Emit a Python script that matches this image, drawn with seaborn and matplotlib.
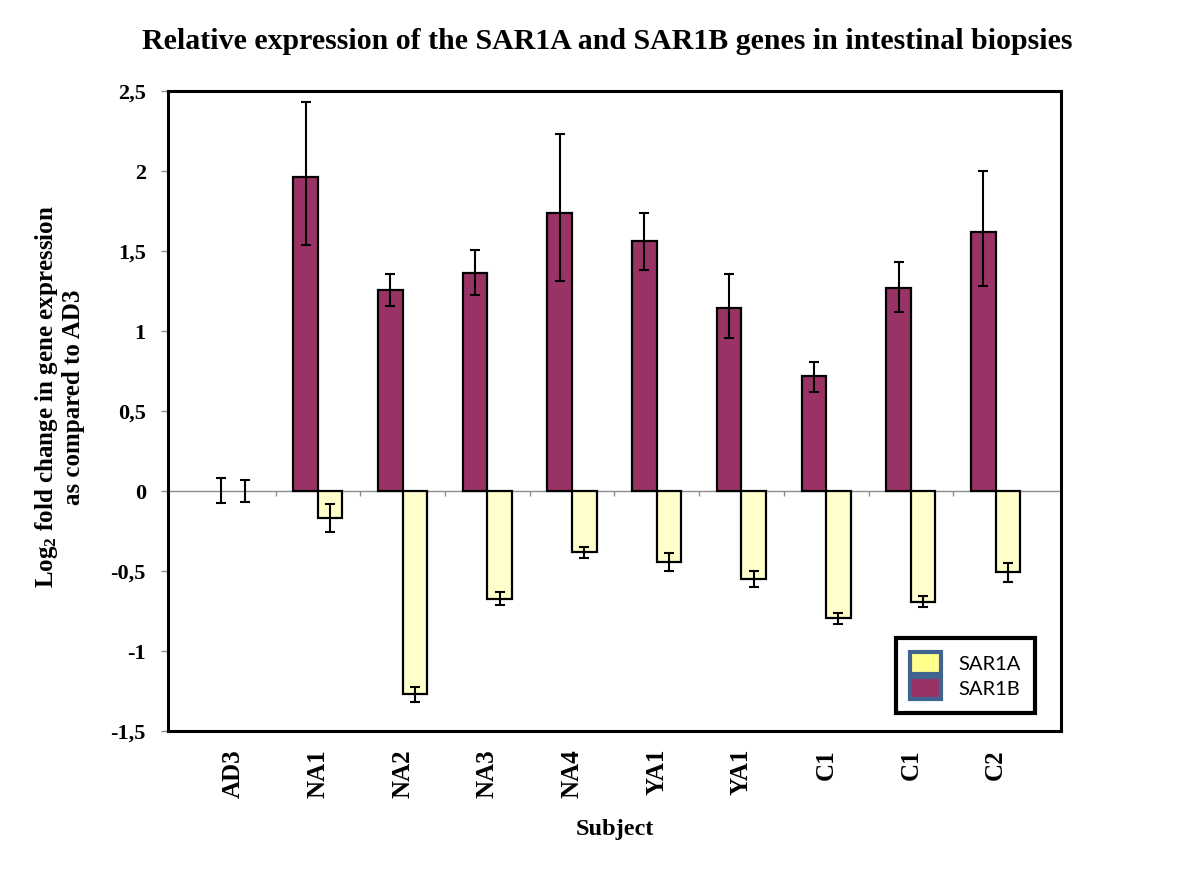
import matplotlib
matplotlib.use('Agg')
import matplotlib.pyplot as plt
from matplotlib.patches import Patch
from matplotlib.ticker import FuncFormatter
import seaborn as sns
import pandas as pd
import numpy as np

# values
subjects = ['AD3', 'NA1', 'NA2', 'NA3', 'NA4', 'YA1', 'YA1', 'C1', 'C1', 'C2']
sar1b = [0.0, 1.96, 1.254, 1.365, 1.74, 1.56, 1.144, 0.719, 1.271, 1.619]
sar1b_err_lo = [0.077, 0.42, 0.10, 0.14, 0.43, 0.18, 0.19, 0.10, 0.15, 0.34]
sar1b_err_hi = [0.083, 0.47, 0.10, 0.14, 0.49, 0.18, 0.21, 0.09, 0.16, 0.38]
sar1a = [0.0, -0.169, -1.271, -0.673, -0.383, -0.444, -0.548, -0.796, -0.692, -0.508]
sar1a_err = [0.068, 0.085, 0.045, 0.04, 0.036, 0.058, 0.05, 0.034, 0.035, 0.058]

colors = {'SAR1B': '#993366', 'SAR1A': '#FFFFCC'}
legend_colors = {'SAR1A': '#FFFF8C', 'SAR1B': '#993366'}

sns.set_style('white')
plt.rcParams['font.family'] = ['Liberation Serif', 'DejaVu Serif']
plt.rcParams['font.weight'] = 'bold'
plt.rcParams['text.color'] = 'black'
plt.rcParams['axes.labelcolor'] = 'black'
plt.rcParams['xtick.labelcolor'] = 'black'
plt.rcParams['ytick.labelcolor'] = 'black'
plt.rcParams['mathtext.fontset'] = 'custom'
plt.rcParams['mathtext.rm'] = 'Liberation Serif:bold'
plt.rcParams['mathtext.it'] = 'Liberation Serif:bold'
plt.rcParams['mathtext.bf'] = 'Liberation Serif:bold'

slots = [f'{s}_{i}' for i, s in enumerate(subjects)]
df = pd.DataFrame({
    'slot': slots * 2,
    'gene': ['SAR1B'] * len(slots) + ['SAR1A'] * len(slots),
    'value': sar1b + sar1a,
})

fig = plt.figure(figsize=(12, 8.88), dpi=100)
ax = fig.add_axes([0.14, 0.1768, 0.744, 0.7207])

ax.axhline(0, color='#8c8c8c', lw=1, zorder=0.5)
ax.vlines(np.arange(len(subjects) - 1) + 0.5, -0.03, 0, color='#8c8c8c', lw=1, zorder=0.5)

sns.barplot(data=df, x='slot', y='value', hue='gene', order=slots,
            hue_order=['SAR1B', 'SAR1A'], palette=colors, saturation=1,
            width=0.58, edgecolor='black', linewidth=1.6, errorbar=None,
            legend=False, ax=ax, zorder=2)

# error bars placed on the drawn bars
xs_b, ys_b, xs_a, ys_a = {}, {}, {}, {}
for p in ax.patches:
    cx = p.get_x() + p.get_width() / 2
    i = int(round(cx))
    if p.get_height() == 0:
        p.set_linewidth(0)
    if cx < i:
        xs_b[i], ys_b[i] = cx, p.get_height()
    else:
        xs_a[i], ys_a[i] = cx, p.get_height()

idx = range(len(subjects))
ax.errorbar([xs_b[i] for i in idx], [ys_b[i] for i in idx],
            yerr=[sar1b_err_lo, sar1b_err_hi], fmt='none', ecolor='black',
            elinewidth=1.5, capsize=3.3, capthick=1.5, zorder=3)
ax.errorbar([xs_a[i] for i in idx], [ys_a[i] for i in idx],
            yerr=sar1a_err, fmt='none', ecolor='black',
            elinewidth=1.5, capsize=3.3, capthick=1.5, zorder=3)

ax.set_ylim(-1.5, 2.5)
ax.set_yticks(np.arange(-1.5, 2.51, 0.5))
ax.yaxis.set_major_formatter(FuncFormatter(lambda v, _: f'{v:g}'.replace('.', ',')))
ax.tick_params(axis='y', length=5, color='#8c8c8c', width=1, pad=11, labelsize=16, left=True)
ax.set_xticks(range(len(subjects)))
ax.set_xticklabels(subjects, rotation=90)
ax.tick_params(axis='x', length=0, pad=13, labelsize=18)
for t in ax.get_xticklabels() + ax.get_yticklabels():
    t.set_fontweight('bold')

for s in ax.spines.values():
    s.set_visible(True)
    s.set_color('black')
    s.set_linewidth(2.2)

ax.set_xlabel('Subject', fontsize=17.5, fontweight='bold')
ax.xaxis.set_label_coords(0.5006, -0.138)
ax.set_ylabel('Log$_2$ fold change in gene expression\nas compared to AD3',
              fontsize=18, fontweight='bold', linespacing=1.1)
ax.yaxis.set_label_coords(-0.093, 0.522)

fig.suptitle('Relative expression of the SAR1A and SAR1B genes in intestinal biopsies',
             x=0.506, y=0.953, va='center', fontsize=21.5, fontweight='bold')

handles = [Patch(facecolor=legend_colors[g], edgecolor='#41638F', linewidth=3, label=g)
           for g in ['SAR1A', 'SAR1B']]
leg = ax.legend(handles=handles, loc='lower right', bbox_to_anchor=(0.971, 0.028),
                borderaxespad=0, fancybox=False, frameon=True, framealpha=1,
                handlelength=1.55, handleheight=1.3, handletextpad=0.85,
                labelspacing=0.15, borderpad=0.7,
                prop={'family': 'Lato', 'size': 14.5, 'weight': 'normal'})
leg.get_frame().set_edgecolor('black')
leg.get_frame().set_linewidth(3)
for txt in leg.get_texts():
    txt.set_color('black')

fig.savefig('out.png', dpi=100)
